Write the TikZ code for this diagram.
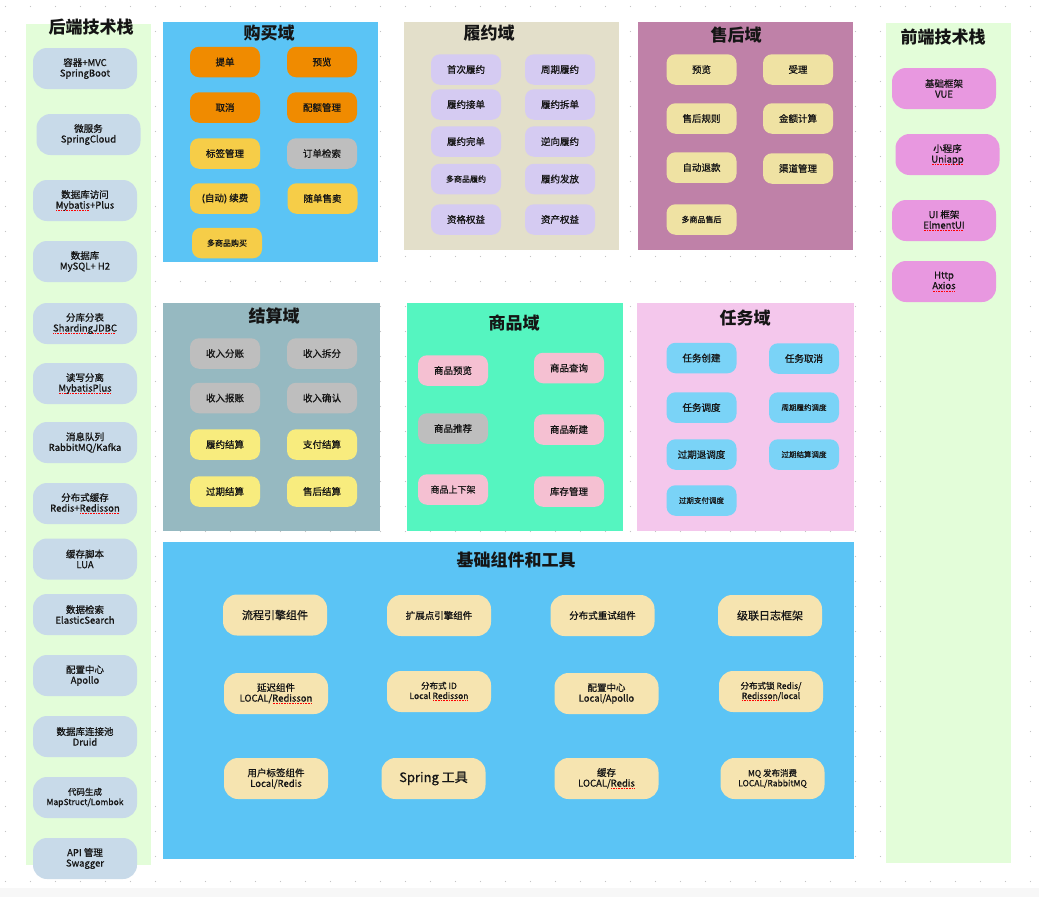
\documentclass[tikz,border=0pt]{standalone}
\usepackage{fontspec}
\setmainfont{Noto Sans CJK SC}
\newfontfamily\lbl{Noto Sans CJK SC}[FakeBold=0.8]
\newcommand\spl[1]{\setbox0\hbox{#1}\rlap{\textcolor{red}{\hbox to \wd0{\leaders\hbox to 1.6pt{\hss\rule[-2.2pt]{0.8pt}{0.8pt}\hss}\hfill}}}\box0}
\definecolor{dotc}{HTML}{C4C4C4}
\definecolor{pgreen}{HTML}{E3FDD9}
\definecolor{pblue}{HTML}{5BC4F5}
\definecolor{pbeige}{HTML}{E3DFCA}
\definecolor{pmauve}{HTML}{BF81A8}
\definecolor{pteal}{HTML}{96B9C1}
\definecolor{pmint}{HTML}{55F5C0}
\definecolor{ppink}{HTML}{F4C7EC}
\definecolor{cleft}{HTML}{C8DAE9}
\definecolor{cfront}{HTML}{E898E0}
\definecolor{corange}{HTML}{F08B00}
\definecolor{cyellow}{HTML}{F6CD48}
\definecolor{cgray}{HTML}{BEBEBE}
\definecolor{clav}{HTML}{D5CBF2}
\definecolor{ccream}{HTML}{EFE2A3}
\definecolor{clemon}{HTML}{F8EC7E}
\definecolor{cpink}{HTML}{F5C0D2}
\definecolor{csky}{HTML}{7AD3F7}
\definecolor{cwheat}{HTML}{F6E4B0}
\definecolor{ink}{HTML}{151515}
\definecolor{strip}{HTML}{F7F7F7}
\tikzset{
  panel/.style={fill=#1, draw=none},
  ttl/.style={font=\fontsize{17}{19}\selectfont\bfseries, text=ink, inner sep=0},
  box/.style={fill=#1, draw=none, rounded corners=9pt, minimum width=70pt, minimum height=30.5pt, inner sep=0, align=center, text=ink, font=\lbl\fontsize{9.5}{11}\selectfont},
  bigbox/.style={fill=#1, draw=none, rounded corners=14pt, minimum width=104pt, minimum height=41pt, inner sep=0, align=center, text=ink, font=\lbl\fontsize{9.5}{10.5}\selectfont},
  sm/.style={font=\lbl\fontsize{8}{10}\selectfont},
  md/.style={font=\lbl\fontsize{11}{13}\selectfont},
}
\begin{document}
\begin{tikzpicture}[x=1pt,y=-1pt]
\useasboundingbox (0,0) rectangle (1039,897);
\fill[white] (0,0) rectangle (1039,897);
\fill[strip] (0,888) rectangle (1039,897);
\foreach \i in {0,...,41} \foreach \j in {0,...,35} \fill[dotc] (5.5+25*\i,6.5+25*\j) circle (0.7);

% panels
\fill[panel=pgreen] (26,24) rectangle (151,865);
\fill[panel=pgreen] (886,23) rectangle (1011,863);
\fill[panel=pblue] (163,22) rectangle (378,262);
\fill[panel=pbeige] (404,22) rectangle (619,250);
\fill[panel=pmauve] (638,22) rectangle (853,250);
\fill[panel=pteal] (163,303) rectangle (380,531);
\fill[panel=pmint] (407,303) rectangle (623,531);
\fill[panel=ppink] (637,303) rectangle (854,531);
\fill[panel=pblue] (163,542) rectangle (854,859);

% titles
\node[ttl] (tback) at (91,27) {后端技术栈};
\node[ttl] (tfront) at (943,37) {前端技术栈};
\node[ttl] (tbuy) at (269,33) {购买域};
\node[ttl] (tful) at (489,33) {履约域};
\node[ttl] (tafter) at (736,35) {售后域};
\node[ttl] (tsettle) at (274,316) {结算域};
\node[ttl] (tgoods) at (514,323) {商品域};
\node[ttl] (ttask) at (745,318) {任务域};
\node[ttl] (tbase) at (516,560) {基础组件和工具};

% backend stack
\node[bigbox=cleft] (l1) at (85,68.5) {容器+MVC\\SpringBoot};
\node[bigbox=cleft] (l2) at (88.5,134.5) {微服务\\SpringCloud};
\node[bigbox=cleft] (l3) at (85,200.5) {数据库访问\\\spl{Mybatis}+Plus};
\node[bigbox=cleft] (l4) at (85,261.5) {数据库\\MySQL+ H2};
\node[bigbox=cleft] (l5) at (85,323.5) {分库分表\\\spl{ShardingJDBC}};
\node[bigbox=cleft] (l6) at (85,383.5) {读写分离\\\spl{MybatisPlus}};
\node[bigbox=cleft] (l7) at (85,442.5) {消息队列\\RabbitMQ/Kafka};
\node[bigbox=cleft] (l8) at (85,503.5) {分布式缓存\\Redis+\spl{Redisson}};
\node[bigbox=cleft] (l9) at (85,559) {缓存脚本\\LUA};
\node[bigbox=cleft] (l10) at (85,614.5) {数据检索\\ElasticSearch};
\node[bigbox=cleft] (l11) at (85,675.5) {配置中心\\Apollo};
\node[bigbox=cleft] (l12) at (85,736.5) {数据库连接池\\Druid};
\node[bigbox=cleft, font=\lbl\fontsize{8.5}{10}\selectfont] (l13) at (85,797.5) {代码生成\\MapStruct/Lombok};
\node[bigbox=cleft] (l14) at (85,858.5) {API 管理\\Swagger};

% frontend stack
\node[bigbox=cfront] (f1) at (944,88.5) {基础框架\\VUE};
\node[bigbox=cfront] (f2) at (947.5,154.5) {小程序\\\spl{Uniapp}};
\node[bigbox=cfront] (f3) at (944,220.5) {UI 框架\\\spl{ElmentUI}};
\node[bigbox=cfront] (f4) at (944,281.5) {Http\\\spl{Axios}};

% purchase
\node[box=corange] (b1) at (225,62) {提单};
\node[box=corange] (b2) at (322,62) {预览};
\node[box=corange] (b3) at (225,107.5) {取消};
\node[box=corange] (b4) at (322,107.5) {配额管理};
\node[box=cyellow] (b5) at (225,153.5) {标签管理};
\node[box=cgray] (b6) at (322,153.5) {订单检索};
\node[box=cyellow] (b7) at (225,198.5) {(自动) 续费};
\node[box=cyellow] (b8) at (322.5,198.5) {随单售卖};
\node[box=cyellow, sm] (b9) at (227,243) {多商品购买};

% fulfilment
\node[box=clav] (u1) at (466,69.5) {首次履约};
\node[box=clav] (u2) at (560,69.5) {周期履约};
\node[box=clav] (u3) at (466,104.5) {履约接单};
\node[box=clav] (u4) at (560,104.5) {履约拆单};
\node[box=clav] (u5) at (466,141.5) {履约完单};
\node[box=clav] (u6) at (560,141.5) {逆向履约};
\node[box=clav, sm] (u7) at (466,179) {多商品履约};
\node[box=clav] (u8) at (560,179) {履约发放};
\node[box=clav] (u9) at (466,219.5) {资格权益};
\node[box=clav] (u10) at (560,219.5) {资产权益};

% after-sales
\node[box=ccream] (a1) at (701.5,69.5) {预览};
\node[box=ccream] (a2) at (798,69.5) {受理};
\node[box=ccream] (a3) at (701.5,118.5) {售后规则};
\node[box=ccream] (a4) at (798,118.5) {金额计算};
\node[box=ccream] (a5) at (701.5,167.5) {自动退款};
\node[box=ccream] (a6) at (798,168.5) {渠道管理};
\node[box=ccream, sm] (a7) at (701.5,219.5) {多商品售后};

% settlement
\node[box=cgray] (s1) at (225,353.5) {收入分账};
\node[box=cgray] (s2) at (322,353.5) {收入拆分};
\node[box=cgray] (s3) at (225,398) {收入报账};
\node[box=cgray] (s4) at (322,398) {收入确认};
\node[box=clemon] (s5) at (225,444.5) {履约结算};
\node[box=clemon] (s6) at (322,444.5) {支付结算};
\node[box=clemon] (s7) at (225,491.5) {过期结算};
\node[box=clemon] (s8) at (322,491.5) {售后结算};

% goods
\node[box=cpink] (g1) at (453,370.5) {商品预览};
\node[box=cpink] (g2) at (569,368) {商品查询};
\node[box=cgray] (g3) at (453,428.5) {商品推荐};
\node[box=cpink] (g4) at (569,429.5) {商品新建};
\node[box=cpink, font=\lbl\fontsize{9}{11}\selectfont] (g5) at (453,489.5) {商品上下架};
\node[box=cpink] (g6) at (569,491.5) {库存管理};

% tasks
\node[box=csky] (k1) at (701.5,358) {任务创建};
\node[box=csky] (k2) at (804,358.5) {任务取消};
\node[box=csky] (k3) at (701.5,407.5) {任务调度};
\node[box=csky, font=\lbl\fontsize{7.5}{9}\selectfont] (k4) at (804,407.5) {周期履约调度};
\node[box=csky] (k5) at (701.5,454.5) {过期退调度};
\node[box=csky, font=\lbl\fontsize{7.5}{9}\selectfont] (k6) at (804,454.5) {过期结算调度};
\node[box=csky, font=\lbl\fontsize{7.5}{9}\selectfont] (k7) at (701.5,500.5) {过期支付调度};

% base components
\node[bigbox=cwheat, md] (c1) at (275,615) {流程引擎组件};
\node[bigbox=cwheat] (c2) at (439,615.5) {扩展点引擎组件};
\node[bigbox=cwheat] (c3) at (602.5,615.5) {分布式重试组件};
\node[bigbox=cwheat, md] (c4) at (770,615.5) {级联日志框架};
\node[bigbox=cwheat] (c5) at (276,693.5) {延迟组件\\LOCAL/\spl{Redisson}};
\node[bigbox=cwheat, font=\lbl\fontsize{8.5}{10}\selectfont] (c6) at (439,691.5) {分布式 ID\\Local \spl{Redisson}};
\node[bigbox=cwheat] (c7) at (606.5,693.5) {配置中心\\Local/Apollo};
\node[bigbox=cwheat, font=\lbl\fontsize{8.5}{10}\selectfont] (c8) at (771,691.5) {分布式锁 Redis/\\\spl{Redisson}/local};
\node[bigbox=cwheat] (c9) at (276,778.5) {用户标签组件\\Local/Redis};
\node[bigbox=cwheat, font=\lbl\fontsize{13}{15}\selectfont] (c10) at (433.5,778.5) {Spring 工具};
\node[bigbox=cwheat] (c11) at (606.5,778.5) {缓存\\LOCAL/\spl{Redis}};
\node[bigbox=cwheat, font=\lbl\fontsize{8.5}{10}\selectfont] (c12) at (772.5,778.5) {MQ 发布消费\\LOCAL/RabbitMQ};
\end{tikzpicture}
\end{document}
